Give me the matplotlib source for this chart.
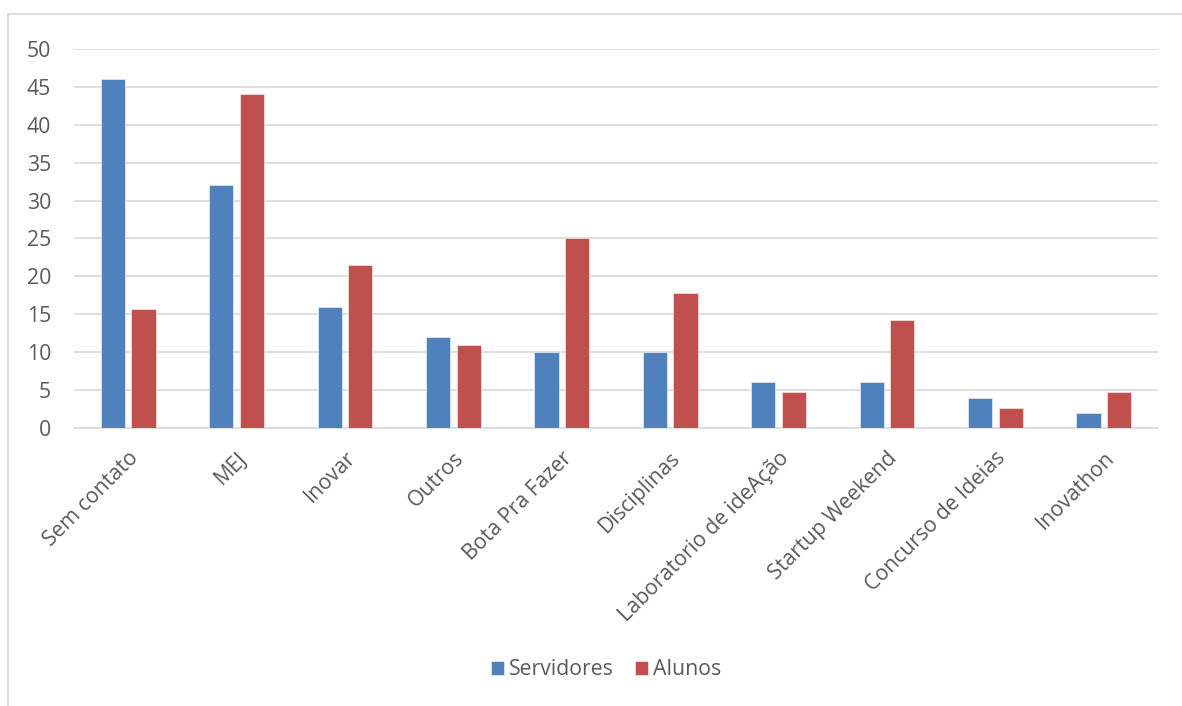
import numpy as np
import matplotlib.pyplot as plt
from matplotlib.lines import Line2D

categorias = ["Sem contato", "MEJ", "Inovar", "Outros", "Bota Pra Fazer",
              "Disciplinas", "Laboratorio de ideAção", "Startup Weekend",
              "Concurso de Ideias", "Inovathon"]
servidores = [46, 32, 16, 12, 10, 10, 6, 6, 4, 2]
alunos = [15.7, 44, 21.5, 11, 25.1, 17.8, 4.7, 14.3, 2.7, 4.7]

azul = "#4F81BD"
vermelho = "#C0504D"
cinza = "#595959"

plt.rcParams['font.family'] = ['Open Sans', 'DejaVu Sans']
fs = 15.3

fig = plt.figure(figsize=(11.82, 7.06), dpi=100)
ax = fig.add_axes([0.0626, 0.3938, 0.9171, 0.5368])

x = np.arange(len(categorias))
w = 0.222
ax.bar(x - 0.141, servidores, w, color=azul, edgecolor="#DCE6F2", linewidth=0.6,
       label="Servidores", zorder=3)
ax.bar(x + 0.141, alunos, w, color=vermelho, edgecolor="#F2DCDB", linewidth=0.6,
       label="Alunos", zorder=3)

ax.set_xlim(-0.5, len(categorias) - 0.5)
ax.set_ylim(0, 50)
ax.set_yticks(range(0, 51, 5))
ax.yaxis.grid(True, color="#D9D9D9", linewidth=1.2, zorder=0)
for s in ["top", "right", "left"]:
    ax.spines[s].set_visible(False)
ax.spines["bottom"].set_color("#D9D9D9")
ax.spines["bottom"].set_linewidth(1.2)
ax.tick_params(axis="both", length=0, colors=cinza, labelsize=fs)
ax.tick_params(axis="y", pad=16.5)

ax.set_xticks(x)
ax.set_xticklabels(categorias, rotation=45, ha="right", rotation_mode="anchor")
ax.tick_params(axis="x", pad=14)

leg = fig.legend(loc="center", bbox_to_anchor=(0.513, 0.051), ncol=2, frameon=False,
                 fontsize=fs, handlelength=0.6, handleheight=0.6, handletextpad=0.25,
                 columnspacing=1.0)
for t in leg.get_texts():
    t.set_color(cinza)

# borda do quadro do gráfico
fig.add_artist(Line2D([8 / 1182, 8 / 1182], [0, 1 - 14 / 706], color="#D9D9D9",
                      linewidth=1.2, transform=fig.transFigure))
fig.add_artist(Line2D([8 / 1182, 1], [1 - 14 / 706, 1 - 14 / 706], color="#D9D9D9",
                      linewidth=1.2, transform=fig.transFigure))

fig.savefig("out.png", dpi=100)
